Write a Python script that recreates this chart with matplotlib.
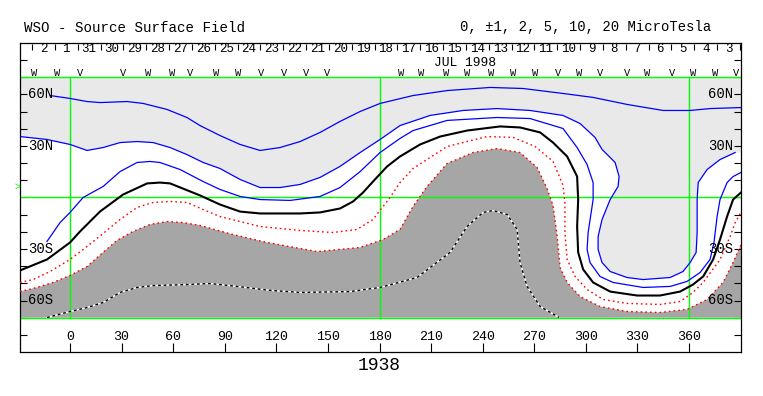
import matplotlib
matplotlib.use('Agg')
import matplotlib.pyplot as plt
import numpy as np

plt.rcParams['font.family'] = ['Liberation Mono', 'DejaVu Sans Mono']

# ---------------- text / labels ----------------
rotation_label = "1938"
title = "WSO - Source Surface Field"
levels_text = "0, \u00b11, 2, 5, 10, 20 MicroTesla"
month_label = "JUL 1998"
month_label_lon = 229.7
day_labels = ["2", "1", "31", "30", "29", "28", "27", "26", "25", "24", "23",
              "22", "21", "20", "19", "18", "17", "16", "15", "14", "13", "12",
              "11", "10", "9", "8", "7", "6", "5", "4", "3"]
first_day_boundary_lon = -22.1
deg_per_day = 13.28
lon_ticks = [0, 30, 60, 90, 120, 150, 180, 210, 240, 270, 300, 330, 360]
lat_labels = [60, 30, -30, -60]
lat_label_text = ["60N", "30N", "30S", "60S"]
b0_lat = 6.4

# daily polarity markers (longitude, symbol)
marker_lon = [-20.9, -7.6, 5.8, 30.8, 45.4, 59.3, 69.8, 84.9, 97.7, 111.1, 124.5,
              137.3, 149.5, 192.5, 204.2, 218.7, 230.9, 244.9, 257.7, 270.5, 283.8,
              296.1, 308.3, 324.0, 335.6, 350.1, 362.3, 375.1, 387.3]
marker_sym = ["W", "W", "V", "V", "W", "W", "V", "W", "W", "V", "V",
              "V", "V", "W", "W", "W", "W", "W", "W", "W", "V",
              "W", "V", "V", "W", "V", "W", "W", "V"]

# ---------------- contour lines (lon, lat) ----------------
pos5_lon = [-11.6, 0, 9.9, 17.4, 33.2, 42.5, 56.4, 68.0, 75.6, 87.2, 98.9, 110.5, 122.1,
            133.8, 145.4, 157.0, 168.7, 180.3, 199.5, 219.3, 244.3, 263.5, 286.7, 304.2,
            324.0, 344.9, 360.6, 372.2, 390.2]
pos5_lat = [59.4, 57.7, 55.9, 55.3, 55.9, 54.8, 51.3, 46.6, 41.9, 36.1, 30.9, 27.4, 29.1,
            32.6, 37.9, 44.3, 50.1, 54.8, 59.4, 62.3, 64.1, 63.5, 60.6, 58.3,
            54.2, 50.7, 50.7, 51.8, 52.4]

pos2_lon = [-29.1, -13.4, 0, 9.9, 19.2, 29.1, 39.0, 48.3, 58.2, 68.0, 77.4, 87.2, 98.9,
            110.5, 122.1, 133.8, 145.4, 157.0, 168.7, 180.3, 191.9, 209.4, 228.6, 248.3,
            267.5, 286.7, 296.6, 305.3, 309.4, 317.0, 319.3, 318.7, 314.1, 309.4, 307.1,
            307.1, 309.4, 314.1, 323.9, 333.3, 349.0, 356.5, 360.6, 364.1, 364.7, 364.7,
            365.3, 370.5, 378.0, 386.8]
pos2_lat = [35.5, 33.8, 30.9, 27.4, 29.1, 32.0, 32.6, 32.0, 29.1, 25.0, 20.4, 16.9, 10.5,
            5.8, 5.8, 7.6, 11.7, 18.1, 26.2, 33.8, 41.9, 47.8, 50.7, 51.8,
            50.7, 47.8, 43.1, 35.0, 28.0, 20.4, 12.2, 6.4, -1.2, -12.8, -22.7,
            -30.3, -37.9, -43.1, -46.6, -47.8, -46.6, -43.1, -37.9, -32.0, -20.4, -1.2,
            8.7, 16.3, 22.1, 26.2]

pos1_lon = [-13.4, -5.8, 0, 7.6, 19.2, 29.1, 39.0, 46.5, 52.3, 64.0, 77.4, 87.2, 98.9,
            110.5, 128.0, 145.4, 157.0, 168.7, 180.3, 191.9, 199.5, 219.3, 248.3, 267.5,
            286.7, 294.9, 300.7, 304.2, 304.2, 301.3, 300.7, 302.4, 308.2, 315.8, 333.3,
            349.0, 358.8, 366.4, 372.2, 374.5, 376.3, 378.0, 382.1, 385.6, 390.2]
pos1_lat = [-25.6, -14.6, -8.7, 0, 6.4, 15.1, 20.4, 21.0, 20.4, 16.3, 9.3, 4.7, 0.6,
            -1.2, -1.7, 0.6, 5.8, 15.1, 26.2, 34.4, 39.0, 44.9, 46.6, 46.0,
            40.2, 29.1, 19.2, 8.7, -1.2, -20.4, -30.3, -37.9, -46.0, -49.5, -52.4,
            -51.8, -48.9, -43.7, -36.1, -26.2, -11.1, -1.2, 8.7, 12.2, 14.6]

zero_lon = [-29.1, -13.4, 0, 5.8, 17.4, 30.8, 44.8, 52.3, 58.2, 75.6, 87.2, 98.9, 110.5,
            133.8, 145.4, 157.0, 164.6, 170.4, 176.2, 184.4, 191.9, 203.6, 215.2, 230.9,
            250.1, 261.7, 273.4, 280.9, 289.1, 294.9, 295.5, 294.9, 295.5, 298.4, 304.2,
            314.1, 329.8, 343.1, 354.8, 362.3, 368.2, 374.0, 378.0, 382.1, 385.6, 390.2]
zero_lat = [-42.5, -36.1, -26.2, -19.8, -8.2, 1.7, 8.2, 8.7, 8.2, 1.2, -4.1, -8.2, -9.3,
            -9.3, -8.7, -6.4, -2.3, 2.9, 9.3, 18.1, 23.9, 30.9, 35.5, 39.0,
            41.4, 40.8, 37.9, 32.0, 23.9, 12.2, -1.2, -16.9, -32.0, -41.9, -49.5,
            -54.8, -57.1, -57.1, -54.8, -50.7, -46.0, -36.1, -24.5, -11.1, -1.2, 2.9]

neg1_lon = [-29.1, -21.5, -11.6, 0, 7.6, 19.2, 29.1, 39.0, 48.3, 58.2, 68.0, 77.4, 87.2,
            110.5, 133.8, 153.0, 166.9, 176.2, 186.1, 191.9, 199.5, 219.3, 242.5, 257.7,
            270.5, 280.9, 286.7, 287.8, 287.8, 289.1, 293.7, 300.7, 310.0, 323.9, 343.1,
            354.8, 362.3, 368.2, 378.0, 383.9, 386.8, 390.2]
neg1_lat = [-49.5, -47.8, -43.1, -36.1, -30.3, -21.0, -12.8, -5.8, -2.9, -2.3, -2.9, -7.0,
            -11.1, -16.9, -19.2, -20.4, -18.6, -12.8, 0, 8.7, 16.9, 29.7, 35.5, 35.0,
            29.7, 21.0, 7.0, -2.9, -20.4, -36.1, -46.0, -53.6, -59.4, -61.7, -62.3,
            -60.6, -55.3, -49.5, -36.1, -22.7, -14.6, -8.7]

neg2_lon = [-29.1, -19.2, -9.9, 0, 9.9, 19.2, 27.3, 36.6, 46.5, 56.4, 65.7, 75.6, 94.8,
            114.6, 143.7, 168.7, 182.0, 191.9, 199.5, 207.6, 219.3, 234.4, 248.3, 261.7,
            271.6, 277.4, 280.9, 283.3, 285.0, 289.1, 296.6, 308.2, 323.9, 343.1, 358.8,
            370.5, 379.7, 385.6, 390.2]
neg2_lat = [-54.8, -52.4, -49.5, -45.4, -40.2, -32.0, -25.0, -19.8, -15.7, -14.0, -14.6,
            -16.3, -21.6, -26.2, -31.5, -29.1, -24.5, -18.6, -5.2, 6.4, 19.8, 26.2, 28.5,
            26.2, 17.5, 5.2, -4.7, -22.7, -40.8, -49.5, -57.7, -63.5, -66.4, -67.0, -65.2,
            -59.4, -49.5, -37.9, -27.4]

neg5_lon = [-13.4, 0, 9.9, 19.2, 29.1, 39.0, 48.3, 68.0, 81.4, 97.1, 116.3, 133.8, 162.8,
            180.3, 201.8, 221.0, 230.9, 240.2, 246.0, 254.2, 260.0, 261.7, 265.8, 273.4,
            284.4]
neg5_lat = [-69.9, -66.4, -64.1, -61.2, -55.3, -52.4, -51.3, -50.7, -50.1, -51.8, -54.1,
            -55.3, -54.8, -52.4, -46.6, -32.0, -16.9, -8.7, -7.6, -9.9, -18.6, -37.9,
            -51.8, -63.5, -69.9]

# ---------------- figure ----------------
W, H = 763, 396
fig = plt.figure(figsize=(W / 100, H / 100), dpi=100)
fig.patch.set_facecolor('white')
ax = fig.add_axes([20 / W, 1 - 352 / H, 721 / W, 309 / H])
x0, x1 = -29.1, 390.2
ax.set_xlim(x0, x1)
ax.set_ylim(-90, 90)

light = '#e9e9e9'
dark = '#a6a6a6'
green = '#00ff00'
blue = '#0000ff'

# fills: B > 2 (light), B < -2 (dark)
ax.fill([x0 - 10] + pos2_lon + [x1 + 10, x1 + 10, x0 - 10],
        [pos2_lat[0]] + pos2_lat + [pos2_lat[-1], 70, 70],
        color=light, lw=0, zorder=1)
ax.fill([x0 - 10] + neg2_lon + [x1 + 10, x1 + 10, x0 - 10],
        [neg2_lat[0]] + neg2_lat + [neg2_lat[-1], -70, -70],
        color=dark, lw=0, zorder=1)

# grid lines
ax.hlines([-70, 0, 70], x0, x1, colors=green, lw=1.0, zorder=2)
ax.vlines([0, 180, 360], -70, 70, colors=green, lw=1.0, zorder=2)

# contour lines
ax.plot(pos5_lon, pos5_lat, color=blue, lw=0.9, zorder=3)
ax.plot(pos2_lon, pos2_lat, color=blue, lw=0.9, zorder=3)
ax.plot(pos1_lon, pos1_lat, color=blue, lw=0.9, zorder=3)
ax.plot(zero_lon, zero_lat, color='black', lw=1.5, zorder=4)
ax.plot(neg1_lon, neg1_lat, color='red', lw=1.0, ls=(0, (1.2, 2.2)), zorder=3)
ax.plot(neg2_lon, neg2_lat, color='red', lw=1.0, ls=(0, (1.2, 2.2)), zorder=3)
ax.plot(neg5_lon, neg5_lat, color='white', lw=1.0, zorder=3)
ax.plot(neg5_lon, neg5_lat, color='black', lw=1.0, ls=(0, (2, 2)), zorder=3)

# axes ticks
ax.set_yticks(np.arange(-80, 81, 10))
ax.tick_params(axis='y', which='both', direction='in', length=5, width=0.8,
               left=True, right=True, labelleft=False, labelright=False)
ax.set_xticks(lon_ticks)
ax.tick_params(axis='x', direction='in', length=6.5, width=0.8,
               bottom=True, top=False, labelbottom=False)
for s in ax.spines.values():
    s.set_linewidth(0.9)

for lon in lon_ticks:
    ax.text(lon, -81.2, str(lon), ha='center', va='center', fontsize=9.6)
for lat, lab in zip(lat_labels, lat_label_text):
    ax.text(-24.6, lat, lab, ha='left', va='center', fontsize=10, zorder=5)
    ax.text(385.6, lat, lab, ha='right', va='center', fontsize=10, zorder=5)

# day boundaries and labels (top band)
day_bounds = first_day_boundary_lon + deg_per_day * np.arange(len(day_labels) + 1)
ax.vlines(day_bounds, 86.2, 89.2, colors='black', lw=0.8)
for k, lab in enumerate(day_labels):
    ax.text((day_bounds[k] + day_bounds[k + 1]) / 2, 86.4, lab,
            ha='center', va='center', fontsize=9)
ax.text(month_label_lon, 78.4, month_label, ha='center', va='center', fontsize=9.4)
for lon, sym in zip(marker_lon, marker_sym):
    ax.text(lon, 72.5, sym, ha='center', va='center', fontsize=7.5)

ax.text(-30.6, b0_lat, '>', ha='center', va='center', fontsize=7, color=green,
        clip_on=False)

ax.text(180, -97.8, rotation_label, ha='center', va='center', fontsize=13,
        clip_on=False)
fig.text(24 / W, 1 - 27.5 / H, title, ha='left', va='center', fontsize=10.2)
fig.text(711 / W, 1 - 27.5 / H, levels_text, ha='right', va='center', fontsize=10)

fig.savefig('out.png', dpi=100, facecolor='white')
